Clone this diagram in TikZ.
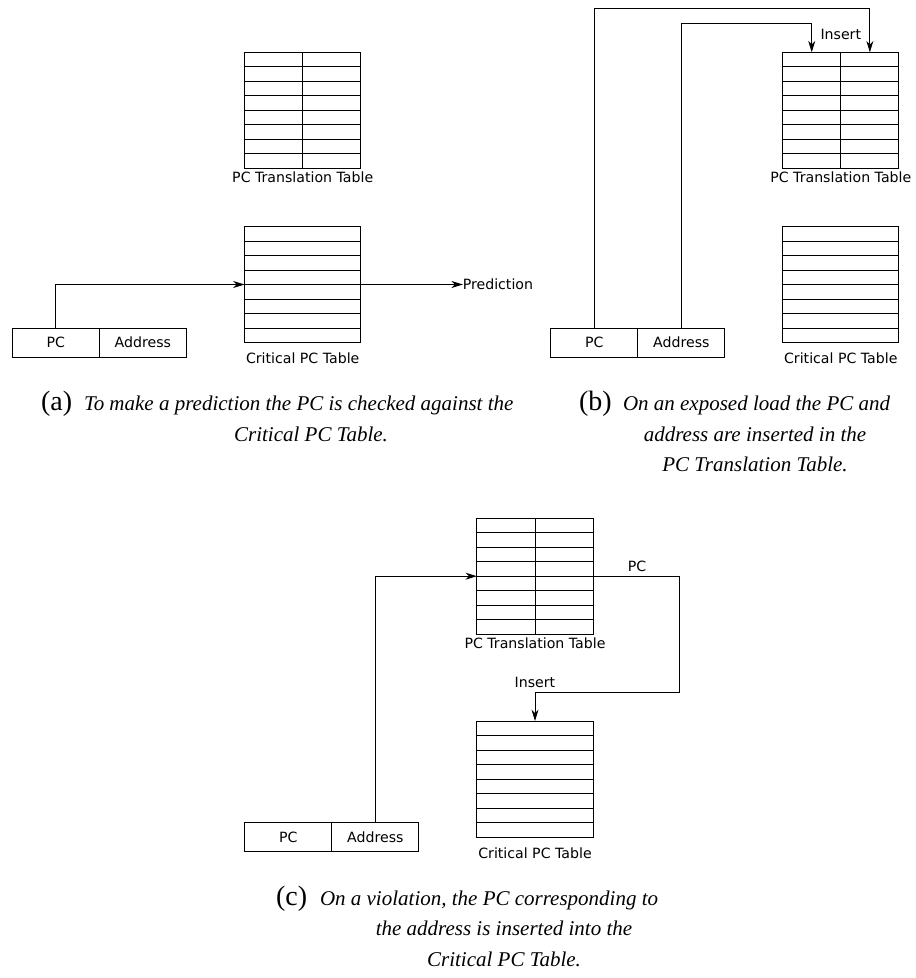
\documentclass[tikz,border=0pt]{standalone}
\usepackage{fontspec}
\newfontfamily\diafont{DejaVu Sans}
\newfontfamily\capfont{Liberation Serif}
\usetikzlibrary{positioning, arrows.meta}

\begin{document}
\begin{tikzpicture}[
    x=0.75pt, y=-0.75pt,
    every node/.style={outer sep=0pt},
    critical/.style={rectangle, draw, line width=0.75pt, inner sep=0pt,
                     minimum width=87.2pt, minimum height=87pt,
                     path picture={
                       \foreach \r in {1,...,7}
                         \draw[line width=0.75pt]
                           ([yshift=\r*10.875pt]path picture bounding box.south west) --
                           ([yshift=\r*10.875pt]path picture bounding box.south east);
                     }},
    translation/.style={rectangle, draw, line width=0.75pt, inner sep=0pt,
                        minimum width=87.2pt, minimum height=87pt,
                        path picture={
                          \foreach \r in {1,...,7}
                            \draw[line width=0.75pt]
                              ([yshift=\r*10.875pt]path picture bounding box.south west) --
                              ([yshift=\r*10.875pt]path picture bounding box.south east);
                          \draw[line width=0.75pt] (path picture bounding box.south) --
                                                   (path picture bounding box.north);
                        }},
    field/.style={rectangle, draw, line width=0.75pt, inner sep=0pt,
                  minimum width=65.3pt, minimum height=21.75pt,
                  font=\diafont\fontsize{10.6}{12}\selectfont},
    lbl/.style={inner sep=0pt, font=\diafont\fontsize{10.6}{12}\selectfont},
    arrow/.style={-{Stealth[length=8.5pt, width=5.2pt, inset=2.6pt]}, line width=0.75pt},
    captag/.style={inner sep=0pt, anchor=base west, font=\capfont\fontsize{21}{24}\selectfont},
    captext/.style={inner sep=0pt, font=\capfont\itshape\fontsize{15.75}{23}\selectfont}
  ]
    \useasboundingbox (0,0) rectangle (915,978);

    % (a) making a prediction
    \node[translation] (ptta) at (302.7, 110.3) {};
    \node[lbl, below=2.4pt of ptta] (ptta-l) {PC Translation Table};
    \node[critical] (cpta) at (302.7, 284.5) {};
    \node[lbl, below=7.7pt of cpta] (cpta-l) {Critical PC Table};
    \node[field] (pca) at (55.8, 342.5) {PC};
    \node[field, right=0pt of pca] (addra) {Address};
    \node[lbl, right=76.5pt of cpta] (pred) {Prediction};

    \draw[arrow] (pca.north) |- (cpta.west);
    \draw[arrow] (cpta.east) -- (pred.west);

    % (b) exposed load
    \node[translation] (pttb) at (840.8, 110.3) {};
    \node[lbl, below=2.4pt of pttb] (pttb-l) {PC Translation Table};
    \node[critical] (cptb) at (840.8, 284.5) {};
    \node[lbl, below=7.7pt of cptb] (cptb-l) {Critical PC Table};
    \node[field] (pcb) at (594.3, 342.7) {PC};
    \node[field, right=0pt of pcb] (addrb) {Address};
    \node[lbl] (insb) at ([yshift=13.2pt]pttb.north) {Insert};

    \draw[arrow] (pcb.north) |- ([xshift=21.8pt, yshift=32.5pt]pttb.north)
                             -- ([xshift=21.8pt]pttb.north);
    \draw[arrow] (addrb.north) |- ([xshift=-21.8pt, yshift=21.75pt]pttb.north)
                               -- ([xshift=-21.8pt]pttb.north);

    % (c) violation
    \node[translation] (pttc) at (535, 576.2) {};
    \node[lbl, below=2.4pt of pttc] (pttc-l) {PC Translation Table};
    \node[critical] (cptc) at (535, 779) {};
    \node[lbl, below=7.7pt of cptc] (cptc-l) {Critical PC Table};
    \node[field] (pcc) at (288.3, 837.2) {PC};
    \node[field, right=0pt of pcc] (addrc) {Address};
    \node[lbl] (pcl) at ([xshift=33pt, yshift=7.6pt]pttc.east) {PC};
    \node[lbl] (insc) at ([yshift=28.7pt]cptc.north) {Insert};

    \draw[arrow] (addrc.north) |- (pttc.west);
    \draw[arrow] (pttc.east) -- ++(65pt,0) |- ([yshift=21.75pt]cptc.north) -- (cptc.north);

    % captions
    \node[captag] (capa) at (41, 410.5) {(a)};
    \node[captext, anchor=base west] (capa1) at (84, 410.5) {To make a prediction the PC is checked against the};
    \node[captext, anchor=base] (capa2) at (311, 441) {Critical PC Table.};

    \node[captag] (capb) at (579, 410.5) {(b)};
    \node[captext, anchor=base west] (capb1) at (623, 410.5) {On an exposed load the PC and};
    \node[captext, anchor=base] (capb2) at (755, 441) {address are inserted in the};
    \node[captext, anchor=base] (capb3) at (755, 471.5) {PC Translation Table.};

    \node[captag] (capc) at (276, 905) {(c)};
    \node[captext, anchor=base west] (capc1) at (320, 905) {On a violation, the PC corresponding to};
    \node[captext, anchor=base] (capc2) at (504, 935.5) {the address is inserted into the};
    \node[captext, anchor=base] (capc3) at (504, 966) {Critical PC Table.};
  \end{tikzpicture}
\end{document}
